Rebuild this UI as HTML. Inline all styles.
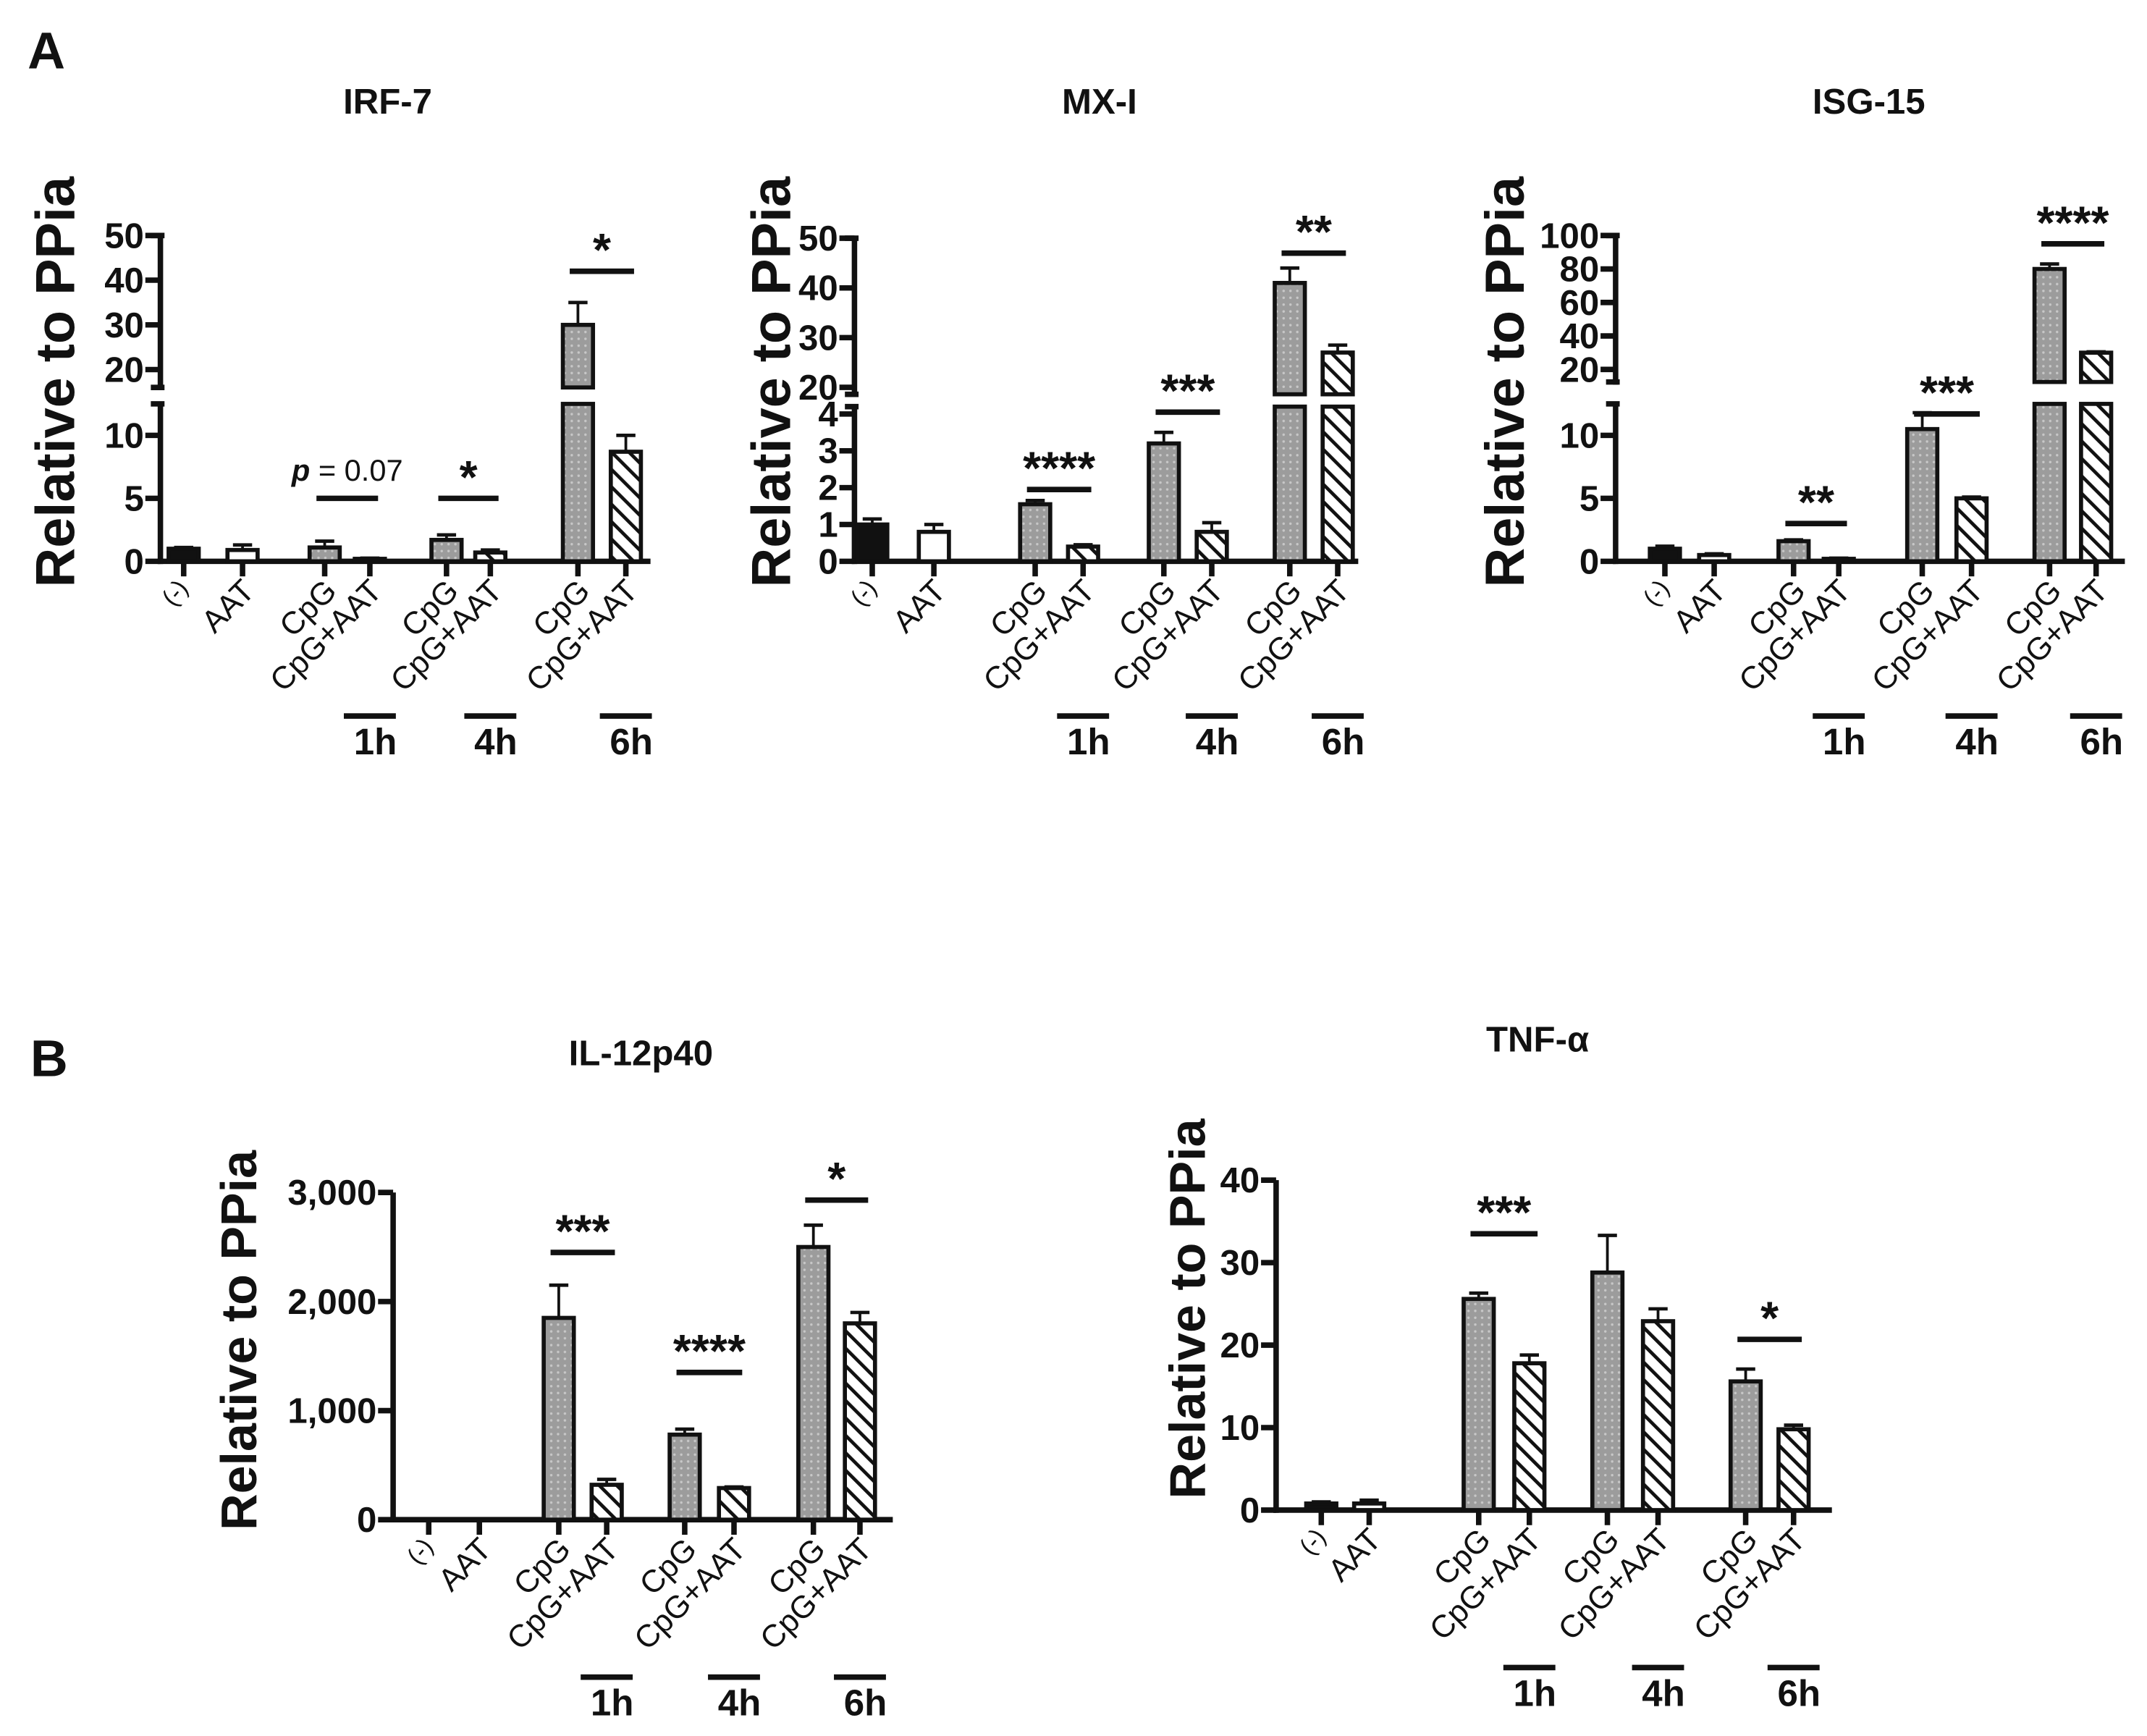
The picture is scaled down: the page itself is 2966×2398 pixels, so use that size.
<!DOCTYPE html>
<html><head><meta charset="utf-8"><style>
html,body{margin:0;padding:0;background:#fff}
svg{display:block}
text{font-family:"Liberation Sans",Arial,sans-serif;fill:#111}
</style></head><body>
<svg id="fig" width="2966" height="2398" viewBox="0 0 1568 1268" xmlns="http://www.w3.org/2000/svg">
<defs>
<pattern id="hatch" patternUnits="userSpaceOnUse" width="9" height="9" patternTransform="rotate(-45)">
<rect width="9" height="9" fill="#fff"/><line x1="0" y1="0" x2="0" y2="9" stroke="#111" stroke-width="5"/></pattern>
<pattern id="dots" patternUnits="userSpaceOnUse" width="5" height="5">
<rect width="5" height="5" fill="#9c9c9c"/><circle cx="2.5" cy="2.5" r="0.9" fill="#c8c8c8"/></pattern>
</defs>
<text x="20" y="50" font-size="38" font-weight="bold">A</text>
<text x="22" y="786" font-size="38" font-weight="bold">B</text>
</svg>
<script>
const categories=["(-)","AAT","CpG","CpG+AAT","CpG","CpG+AAT","CpG","CpG+AAT"];
const fills=["#111","#fff","url(#dots)","url(#hatch)","url(#dots)","url(#hatch)","url(#dots)","url(#hatch)"];
const timeLabels=["1h","4h","6h"];
const irfValues=[1.0,0.9,1.1,0.2,1.7,0.7,30,8.7];
const irfErrors=[1.1,1.3,1.6,0.25,2.1,0.9,35,10.0];
const irfTicks=[0,5,10,20,30,40,50];
const mxValues=[1.0,0.8,1.55,0.4,3.2,0.8,41,27];
const mxErrors=[1.15,1.0,1.65,0.45,3.5,1.05,44,28.5];
const mxTicks=[0,1,2,3,4,20,30,40,50];
const isgValues=[1.0,0.5,1.6,0.2,10.5,5.0,80,30];
const isgErrors=[1.2,0.6,1.7,0.25,11.8,5.1,83,30.5];
const isgTicks=[0,5,10,20,40,60,80,100];
const ilValues=[0,0,1850,320,780,290,2500,1800];
const ilErrors=[0,0,2150,370,830,300,2700,1900];
const ilTicks=[0,1000,2000,3000];
const ilTickLabels=["0","1,000","2,000","3,000"];
const tnfValues=[0.8,0.8,25.6,17.8,28.8,22.9,15.6,9.8];
const tnfErrors=[1.0,1.2,26.3,18.8,33.3,24.4,17.1,10.3];
const tnfTicks=[0,10,20,30,40];
const irfSig=[["p = 0.07",2,3,5],["*",4,5,5],["*",6,7,42]];
const mxSig=[["****",2,3,1.95],["***",4,5,4.05],["**",6,7,47]];
const isgSig=[["**",2,3,3],["***",4,5,11.7],["****",6,7,95]];
const ilSig=[["***",2,3,2450],["****",4,5,1350],["*",6,7,2930]];
const tnfSig=[["***",2,3,33.5],["*",6,7,20.7]];

const NS="http://www.w3.org/2000/svg";
const svg=document.getElementById('fig');
function mk(tag,attrs,parent){const e=document.createElementNS(NS,tag);for(const k in attrs)e.setAttribute(k,attrs[k]);(parent||svg).appendChild(e);return e;}

function chart(cfg){
  const g=mk('g',{});
  
  
  const segs=cfg.segs;
  function y(v){for(const s of segs){if(v<=s.v1||s===segs[segs.length-1]){const vv=Math.max(v,s.v0);return s.y0+(vv-s.v0)*(s.y1-s.y0)/(s.v1-s.v0);}}}
  function x(i){return cfg.xs[i];}
  const y0=segs[0].y0;
  const t=mk('text',{x:cfg.titleX,y:cfg.titleY,'font-size':26,'font-weight':'bold','text-anchor':'middle'},g);t.textContent=cfg.title;
  
  
  const yl=mk('text',{x:0,y:0,'font-size':cfg.ylSize||40,'font-weight':'bold','text-anchor':'middle',transform:`translate(${cfg.ylX},${cfg.ylY}) rotate(-90)`},g);yl.textContent="Relative to PPia";
  
  
  segs.forEach(s=>{mk('line',{x1:cfg.ax,x2:cfg.ax,y1:s.y0+2,y2:s.y1,stroke:'#111','stroke-width':4},g);
    if(segs.length>1)mk('line',{x1:cfg.ax-7,x2:cfg.ax+3,y1:s.y1,y2:s.y1,stroke:'#111','stroke-width':4},g);
    if(segs.length>1&&s!==segs[0])mk('line',{x1:cfg.ax-7,x2:cfg.ax+3,y1:s.y0,y2:s.y0,stroke:'#111','stroke-width':4},g);});
  const xa=mk('line',{x1:cfg.ax-2,x2:cfg.axEnd,y1:y0,y2:y0,stroke:'#111','stroke-width':4},g);
  
  
  cfg.ticks.forEach((tv,i)=>{const yy=y(tv);mk('line',{x1:cfg.ax-11,x2:cfg.ax,y1:yy,y2:yy,stroke:'#111','stroke-width':4},g);
    const tl=mk('text',{x:cfg.ax-12,y:yy+9,'font-size':26,'font-weight':'bold','text-anchor':'end'},g);tl.textContent=cfg.tickLabels?cfg.tickLabels[i]:String(tv);
    
    });
  const bw=cfg.bw;
  cfg.values.forEach((v,i)=>{
    const cx=x(i);
    mk('line',{x1:cx,x2:cx,y1:y0,y2:y0+11,stroke:'#111','stroke-width':4},g);
    if(v>0){
      segs.forEach(s=>{ if(v>s.v0){const top=y(Math.min(v,s.v1));const bot=s===segs[0]?y0:s.y0;
        const r=mk('rect',{x:cx-bw/2,y:top,width:bw,height:Math.max(bot-top,1.5),fill:fills[i],stroke:'#111','stroke-width':3},g);
        
        }});
      const e=cfg.errors[i];
      if(e>v){const ye=y(e);mk('line',{x1:cx,x2:cx,y1:y(v),y2:ye,stroke:'#111','stroke-width':2},g);
        mk('line',{x1:cx-7,x2:cx+7,y1:ye,y2:ye,stroke:'#111','stroke-width':2.5},g);}
    }
    const lab=mk('text',{x:0,y:0,'font-size':23,'text-anchor':'end',transform:`translate(${cx+10},${y0+23}) rotate(-45)`},g);
    if(i===0){lab.setAttribute('font-size',18);lab.setAttribute('transform',`translate(${cx+4},${y0+20}) rotate(-50)`);}
    lab.textContent=categories[i];
    
    
  });
  [2,4,6].forEach((k,j)=>{const xl=x(k+1)-bw/2-8+(cfg.tOff||0), xr=x(k+1)+bw/2+8+(cfg.tOff||0);
    mk('line',{x1:xl,x2:xr,y1:cfg.tY,y2:cfg.tY,stroke:'#111','stroke-width':4},g);
    const tt=mk('text',{x:(xl+xr)/2+4,y:cfg.tY+28,'font-size':27,'font-weight':'bold','text-anchor':'middle'},g);tt.textContent=timeLabels[j];
    
    });
  cfg.sig.forEach(s=>{const yy=y(s[3]);const xl=x(s[1])-6,xr=x(s[2])+6;
    const l=mk('line',{x1:xl,x2:xr,y1:yy,y2:yy,stroke:'#111','stroke-width':4},g);
    
    
    const st=mk('text',{x:(xl+xr)/2,y:yy-4,'font-size':s[0].startsWith('p')?22:34,'font-weight':'bold','text-anchor':'middle'},g);
    if(s[0].startsWith('p')){st.setAttribute('y',yy-13);st.setAttribute('font-family','Liberation Serif');st.setAttribute('font-weight','normal');
      st.innerHTML='<tspan font-style="italic" font-weight="bold">p</tspan> = 0.07';}
    else st.textContent=s[0];
    
    });
}

chart({name:'irf-7',title:'IRF-7',titleX:283,titleY:83,ylX:54,ylY:279,ax:117,axEnd:475,
  segs:[{v0:0,v1:12.5,y0:410,y1:295},{v0:16,v1:50,y0:283,y1:172}],
  xs:[134,177,237,270,326,358,422,457],bw:22,values:irfValues,errors:irfErrors,ticks:irfTicks,sig:irfSig,tY:523});
chart({name:'mx-i',title:'MX-I',titleX:803,titleY:83,ylX:577,ylY:279,ax:624,axEnd:992,
  segs:[{v0:0,v1:4.2,y0:410,y1:297},{v0:18.6,v1:50,y0:288,y1:174}],
  xs:[637,682,756,791,850,885,942,977],bw:22,values:mxValues,errors:mxErrors,ticks:mxTicks,sig:mxSig,tY:523});
chart({name:'isg-15',title:'ISG-15',titleX:1365,titleY:83,ylX:1113,ylY:279,ax:1180,axEnd:1552,
  segs:[{v0:0,v1:12.5,y0:410,y1:295},{v0:12.5,v1:100,y0:279,y1:172}],
  xs:[1216,1252,1310,1343,1404,1440,1497,1531],bw:22,values:isgValues,errors:isgErrors,ticks:isgTicks,sig:isgSig,tY:523});
chart({name:'il-12p40',title:'IL-12p40',titleX:468,titleY:778,ylX:187,ylY:979,ylSize:37,ax:287,axEnd:652,
  segs:[{v0:0,v1:3000,y0:1110,y1:871}],
  xs:[313,350,408,443,500,536,594,628],bw:22,values:ilValues,errors:ilErrors,ticks:ilTicks,tickLabels:ilTickLabels,sig:ilSig,tY:1225});
chart({name:'tnf-alpha',title:'TNF-α',titleX:1123,titleY:768,ylX:880,ylY:956,ylSize:37,ax:932,axEnd:1338,
  segs:[{v0:0,v1:40,y0:1103,y1:862}],
  xs:[965,1000,1080,1117,1174,1211,1275,1310],bw:22,values:tnfValues,errors:tnfErrors,ticks:tnfTicks,sig:tnfSig,tY:1218});
</script>
</body></html>
